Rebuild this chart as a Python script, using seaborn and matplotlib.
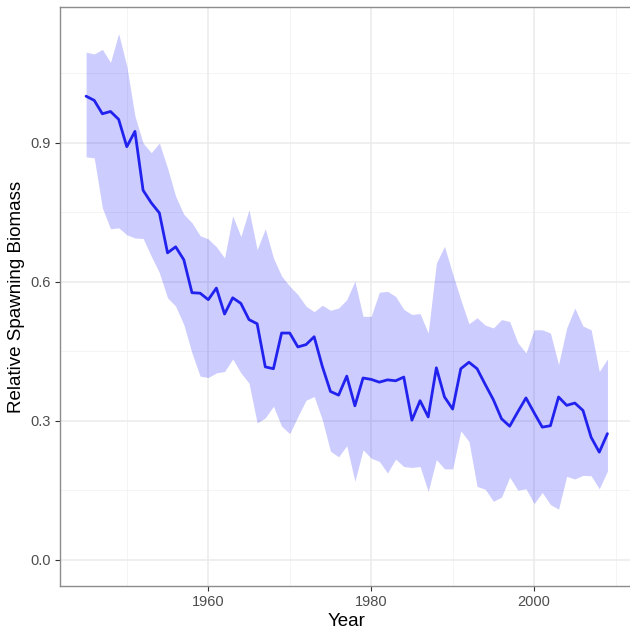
import numpy as np
import pandas as pd
import matplotlib
matplotlib.use("Agg")
import matplotlib.pyplot as plt
import seaborn as sns

years = list(range(1945, 2010))
biomass = [1.000, 0.991, 0.962, 0.967, 0.950, 0.891, 0.924, 0.797, 0.770, 0.748,
           0.662, 0.675, 0.647, 0.576, 0.575, 0.561, 0.586, 0.530, 0.565, 0.553,
           0.518, 0.509, 0.416, 0.412, 0.489, 0.489, 0.459, 0.464, 0.481, 0.417,
           0.363, 0.355, 0.396, 0.332, 0.392, 0.389, 0.383, 0.388, 0.386, 0.394,
           0.301, 0.343, 0.308, 0.414, 0.351, 0.325, 0.412, 0.426, 0.412, 0.378,
           0.345, 0.304, 0.288, 0.319, 0.349, 0.317, 0.286, 0.289, 0.351, 0.333,
           0.338, 0.322, 0.264, 0.232, 0.272]
upper = [1.095, 1.091, 1.101, 1.073, 1.135, 1.065, 0.957, 0.899, 0.878, 0.899,
         0.845, 0.784, 0.745, 0.727, 0.699, 0.692, 0.675, 0.651, 0.742, 0.697,
         0.755, 0.669, 0.714, 0.651, 0.612, 0.590, 0.572, 0.547, 0.535, 0.549,
         0.538, 0.543, 0.561, 0.601, 0.525, 0.525, 0.577, 0.579, 0.568, 0.540,
         0.529, 0.531, 0.489, 0.640, 0.676, 0.617, 0.561, 0.509, 0.522, 0.506,
         0.500, 0.518, 0.514, 0.468, 0.446, 0.496, 0.496, 0.489, 0.421, 0.500,
         0.543, 0.504, 0.496, 0.406, 0.433]
lower = [0.869, 0.867, 0.759, 0.714, 0.716, 0.701, 0.694, 0.693, 0.655, 0.619,
         0.565, 0.547, 0.507, 0.446, 0.396, 0.393, 0.403, 0.406, 0.433, 0.403,
         0.381, 0.295, 0.306, 0.331, 0.288, 0.272, 0.309, 0.344, 0.352, 0.302,
         0.234, 0.222, 0.246, 0.169, 0.237, 0.219, 0.212, 0.187, 0.217, 0.201,
         0.199, 0.201, 0.147, 0.216, 0.196, 0.196, 0.278, 0.255, 0.158, 0.152,
         0.126, 0.135, 0.178, 0.150, 0.153, 0.121, 0.145, 0.119, 0.109, 0.180,
         0.174, 0.182, 0.181, 0.153, 0.191]

x_ticks = [1960, 1980, 2000]
x_minor = [1950, 1970, 1990, 2010]
y_ticks = [0.0, 0.3, 0.6, 0.9]
y_minor = [0.15, 0.45, 0.75, 1.05]

df = pd.DataFrame({"Year": years, "Biomass": biomass, "Upper": upper, "Lower": lower})

sns.set_theme(style="white")
plt.rcParams["font.family"] = ["Liberation Sans", "DejaVu Sans"]

W, H = 630, 631
fig = plt.figure(figsize=(W / 100, H / 100), dpi=100)
ax = fig.add_axes([60 / W, (H - 586) / H, 573.5 / W, 578.7 / H])
ax.set_facecolor("white")

# grid
for v in x_minor:
    ax.axvline(v, color="#F2F2F2", lw=0.6, zorder=0)
for v in y_minor:
    ax.axhline(v, color="#F2F2F2", lw=0.6, zorder=0)
for v in x_ticks:
    ax.axvline(v, color="#EBEBEB", lw=1.1, zorder=0)
for v in y_ticks:
    ax.axhline(v, color="#EBEBEB", lw=1.1, zorder=0)

ax.fill_between(df["Year"], df["Lower"], df["Upper"], color="blue", alpha=0.2,
                linewidth=0, zorder=1)
sns.lineplot(data=df, x="Year", y="Biomass", ax=ax, color="#2222EE", linewidth=2.0,
             zorder=2)

ymin_d, ymax_d = 0.0, max(upper)
ry = ymax_d - ymin_d
ax.set_ylim(ymin_d - 0.05 * ry, ymax_d + 0.05 * ry)
rx = years[-1] - years[0]
ax.set_xlim(years[0] - 0.05 * rx, years[-1] + 0.05 * rx)

ax.set_xticks(x_ticks)
ax.set_xticklabels([str(t) for t in x_ticks])
ax.set_yticks(y_ticks)
ax.set_yticklabels([f"{t:.1f}" for t in y_ticks])
ax.tick_params(axis="both", which="major", length=3.5, width=0.8, color="#333333",
               labelcolor="#4D4D4D", labelsize=10.5, pad=3)
ax.tick_params(axis="x", bottom=True)
ax.tick_params(axis="y", left=True)

for s in ax.spines.values():
    s.set_color("#8C8C8C")
    s.set_linewidth(1.0)

ax.set_xlabel("Year", fontsize=13.5, color="black", labelpad=3)
ax.set_ylabel("Relative Spawning Biomass", fontsize=13.5, color="black", labelpad=4)

fig.savefig("out.png", dpi=100)
